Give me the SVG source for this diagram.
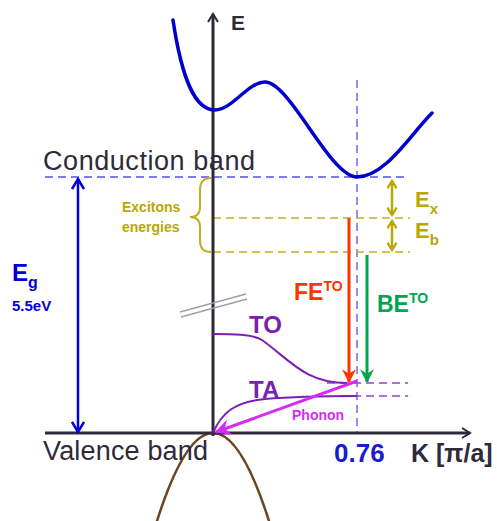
<svg xmlns="http://www.w3.org/2000/svg" width="497" height="521" viewBox="0 0 497 521">
<defs>
<style>
.lbl{font-family:"Liberation Sans",Arial,sans-serif;}
.b{font-weight:bold;}
.dash{fill:none;stroke-width:1.5;stroke-dasharray:8 5;}
</style>
<marker id="chevDark" viewBox="0 0 12 12" refX="10" refY="6" markerWidth="12" markerHeight="12" markerUnits="userSpaceOnUse" orient="auto">
<path d="M2,1 L10,6 L2,11" fill="none" stroke="#2e2a3a" stroke-width="2"/>
</marker>
<marker id="chevBlue" viewBox="0 0 14 14" refX="12" refY="7" markerWidth="14" markerHeight="14" markerUnits="userSpaceOnUse" orient="auto-start-reverse">
<path d="M2,1 L12,7 L2,13" fill="none" stroke="#0000dd" stroke-width="2.5"/>
</marker>
<marker id="chevY" viewBox="0 0 12 12" refX="10" refY="6" markerWidth="11" markerHeight="11" markerUnits="userSpaceOnUse" orient="auto-start-reverse">
<path d="M2,1 L10,6 L2,11" fill="none" stroke="#b8a800" stroke-width="2.5"/>
</marker>
<marker id="triRed" viewBox="0 0 12 12" refX="11" refY="6" markerWidth="14" markerHeight="14" markerUnits="userSpaceOnUse" orient="auto">
<path d="M0,0 L12,6 L0,12 L4,6 Z" fill="#ff3300"/>
</marker>
<marker id="triGreen" viewBox="0 0 12 12" refX="11" refY="6" markerWidth="14" markerHeight="14" markerUnits="userSpaceOnUse" orient="auto">
<path d="M0,0 L12,6 L0,12 L4,6 Z" fill="#00a550"/>
</marker>
<marker id="triMag" viewBox="0 0 12 12" refX="11" refY="6" markerWidth="16" markerHeight="16" markerUnits="userSpaceOnUse" orient="auto">
<path d="M0,0 L12,6 L0,12 L4,6 Z" fill="#d42cf5"/>
</marker>
</defs>
<rect width="497" height="521" fill="#ffffff"/>

<g id="valence-band-curve">
<path d="M153,534 Q213,332 273,534" fill="none" stroke="#6b4420" stroke-width="2.5"/>
</g>

<g id="guides">
<line x1="45" y1="177" x2="408" y2="177" class="dash" stroke="#5050ee"/>
<line x1="357" y1="80" x2="357" y2="433" class="dash" stroke="#6a6af0" stroke-width="1.2"/>
<line x1="213" y1="218" x2="410" y2="218" class="dash" stroke="#c0b020" stroke-width="2"/>
<line x1="213" y1="252" x2="410" y2="252" class="dash" stroke="#c0b020" stroke-width="2"/>
<line x1="327" y1="383" x2="408" y2="383" class="dash" stroke="#9a40d0" stroke-width="1.5"/>
<line x1="340" y1="396" x2="408" y2="396" class="dash" stroke="#9a40d0" stroke-width="1.5"/>
</g>

<g id="axes">
<line x1="213" y1="436" x2="213" y2="14" stroke="#2e2a3a" stroke-width="3" marker-end="url(#chevDark)"/>
<line x1="45" y1="433" x2="470" y2="433" stroke="#2e2a3a" stroke-width="3" marker-end="url(#chevDark)"/>
<g id="break-marks" stroke="#a0a0a0" stroke-width="1.5">
<line x1="180" y1="312" x2="246" y2="294"/>
<line x1="181" y1="317" x2="247" y2="299"/>
</g>
</g>

<g id="conduction-band-curve">
<path d="M173,20 C182,80 195,110 215,110 C232,110 248,82 265,82 C290,82 330,177 357,177 C385,177 410,135 432,113" fill="none" stroke="#0000cc" stroke-width="3.5" stroke-linecap="round"/>
</g>

<g id="phonon-curves">
<path d="M213,334 C232,334 252,334 262,340 C290,360 305,383 347,383" fill="none" stroke="#7a20b0" stroke-width="2"/>
<path d="M213,433 C222,412 235,402 265,399 C300,396 330,396 357,396" fill="none" stroke="#7a20b0" stroke-width="2"/>
</g>

<g id="connectors">
<line x1="78" y1="179" x2="78" y2="432" stroke="#0000dd" stroke-width="2.5" marker-start="url(#chevBlue)" marker-end="url(#chevBlue)"/>
<line x1="392" y1="181" x2="392" y2="215" stroke="#b8a800" stroke-width="2.5" marker-start="url(#chevY)" marker-end="url(#chevY)"/>
<line x1="392" y1="221" x2="392" y2="250" stroke="#b8a800" stroke-width="2.5" marker-start="url(#chevY)" marker-end="url(#chevY)"/>
<line x1="349" y1="218" x2="349" y2="382" stroke="#ff3300" stroke-width="3" marker-end="url(#triRed)"/>
<line x1="367" y1="255" x2="367" y2="382" stroke="#00a550" stroke-width="3" marker-end="url(#triGreen)"/>
<line x1="357" y1="381" x2="216" y2="432" stroke="#d42cf5" stroke-width="3" marker-end="url(#triMag)"/>
<path id="exciton-brace" d="M211,178 Q200,178 200,190 L200,207 Q200,217 190,217 Q200,217 200,227 L200,241 Q200,252 211,252" fill="none" stroke="#c0b020" stroke-width="2"/>
</g>

<g id="labels" class="lbl">
<text x="231" y="30" font-size="21" class="b" fill="#2e2a3a">E</text>
<text x="43" y="170" font-size="27" fill="#2e2a3a" textLength="212">Conduction band</text>
<text x="43" y="460" font-size="27" fill="#2e2a3a" textLength="165">Valence band</text>
<text x="122" y="212" font-size="14" class="b" fill="#b8a800">Excitons</text>
<text x="122" y="232" font-size="14" class="b" fill="#b8a800">energies</text>
<text x="415" y="207" font-size="22" class="b" fill="#b8a800">E<tspan font-size="15" dy="7">x</tspan></text>
<text x="415" y="238" font-size="22" class="b" fill="#b8a800">E<tspan font-size="15" dy="7">b</tspan></text>
<text x="12" y="281" font-size="24" class="b" fill="#0000dd">E<tspan font-size="16" dy="7">g</tspan></text>
<text x="12" y="311" font-size="15" class="b" fill="#0000dd">5.5eV</text>
<text x="294" y="300" font-size="23" class="b" fill="#ff3300">FE<tspan font-size="14" dy="-9">TO</tspan></text>
<text x="377" y="312" font-size="23" class="b" fill="#00a550">BE<tspan font-size="14" dy="-9">TO</tspan></text>
<text x="249" y="333" font-size="24" class="b" fill="#7a20b0">TO</text>
<text x="249" y="398" font-size="24" class="b" fill="#7a20b0">TA</text>
<text x="292" y="420" font-size="14" class="b" fill="#d42cf5">Phonon</text>
<text x="334" y="462" font-size="26" class="b" fill="#1a1ad0">0.76</text>
<text x="411" y="462" font-size="25" class="b" fill="#2e2a3a">K [π/a]</text>
</g>
</svg>
